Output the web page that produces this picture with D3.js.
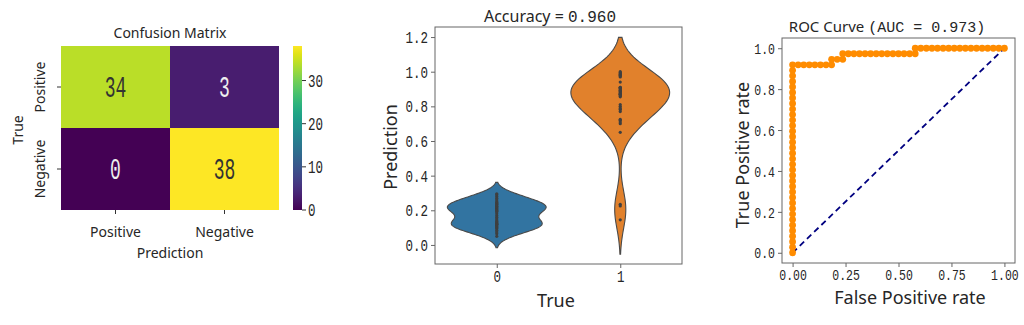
<!DOCTYPE html>
<html><head><meta charset="utf-8">
<script src="https://cdn.jsdelivr.net/npm/d3@7"></script>
<style>
body{margin:0;background:#fff;}
svg{display:block;}
</style></head><body>
<svg id="c" width="1024" height="325"></svg>
<script>
// ---------------- data ----------------
const cmRows = ["Positive", "Negative"];       // True
const cmCols = ["Positive", "Negative"];       // Prediction
const cmValues = [[34, 3], [0, 38]];
const cbTicks = [0, 10, 20, 30];
const cbMax = 38;

const violinClasses = [0, 1];
const predClass0 = [0.05, 0.065, 0.075, 0.085, 0.095, 0.10, 0.105, 0.11, 0.115, 0.12, 0.12, 0.125, 0.13, 0.135,
  0.14, 0.15, 0.16, 0.17, 0.18, 0.19, 0.195, 0.20, 0.205, 0.21, 0.215, 0.22, 0.22, 0.225, 0.23, 0.235,
  0.24, 0.245, 0.25, 0.26, 0.27, 0.28, 0.29, 0.295];
const predClass1 = [0.145, 0.225, 0.235,
  0.65, 0.70, 0.71, 0.72, 0.725, 0.77, 0.78, 0.785, 0.79, 0.80, 0.81,
  0.855, 0.86, 0.865, 0.87, 0.87, 0.875, 0.88, 0.885, 0.89, 0.89, 0.895, 0.90, 0.905, 0.91, 0.91,
  0.94, 0.97, 0.975, 0.98, 0.985, 0.99, 0.995, 1.00];
const violinYTicks = [0.0, 0.2, 0.4, 0.6, 0.8, 1.0, 1.2];
const accuracyText = "0.960";

const rocNeg = 38, rocPos = 37;
const rocFpCounts = [0,0,0,0,0,0,0,0,0,0,0,0,0,0,0,0,0,0,0,0,0,0,0,0,0,0,0,0,0,0,0,0,0,0,0,
  1,2,3,4,5,6,7, 7, 8,9, 9, 10,11,12,13,14,15,16,17,18,19,20,21,22, 22,
  23,24,25,26,27,28,29,30,31,32,33,34,35,36,37,38];
const rocTpCounts = [0,1,2,3,4,5,6,7,8,9,10,11,12,13,14,15,16,17,18,19,20,21,22,23,24,25,26,27,28,29,30,31,32,33,34,
  34,34,34,34,34,34,34, 35, 35,35, 36, 36,36,36,36,36,36,36,36,36,36,36,36,36, 37,
  37,37,37,37,37,37,37,37,37,37,37,37,37,37,37,37];
const aucText = "0.973";
const rocTicksX = [0, 0.25, 0.5, 0.75, 1.0];
const rocTicksY = [0, 0.2, 0.4, 0.6, 0.8, 1.0];

// ---------------- drawing ----------------
const svg = d3.select("#c");
const SANS = "'Noto Sans', 'Open Sans', sans-serif";
const MONO = "'Liberation Mono', 'DejaVu Sans Mono', monospace";
const TXT = "#262626";
const SPINE = "#666";

// tall, narrow tick labels (monospace stretched vertically)
function styleLeft(a, fs) {
  a.select(".domain").remove();
  a.selectAll("line").attr("stroke", SPINE);
  a.selectAll("text").attr("x", null).attr("y", null).attr("dy", null)
    .attr("transform", `translate(-7,${fs * 0.45}) scale(1,1.35)`)
    .attr("font-family", MONO).attr("font-size", fs).attr("fill", TXT);
}
function styleBottom(a, fs, base) {
  a.select(".domain").remove();
  a.selectAll("line").attr("stroke", SPINE);
  a.selectAll("text").attr("x", null).attr("y", null).attr("dy", null)
    .attr("transform", `translate(0,${base}) scale(1,1.35)`)
    .attr("font-family", MONO).attr("font-size", fs).attr("fill", TXT);
}

// ===== Panel 1: confusion matrix heatmap =====
const hx = d3.scaleBand().domain(cmCols).range([61, 279]);
const hy = d3.scaleBand().domain(cmRows).range([46, 210]);
const hc = d3.scaleSequential(d3.interpolateViridis).domain([0, cbMax]);
const cells = [];
cmRows.forEach((r, i) => cmCols.forEach((c, j) => cells.push({r, c, v: cmValues[i][j]})));
const hm = svg.append("g");
hm.selectAll("rect").data(cells).join("rect")
  .attr("x", d => hx(d.c)).attr("y", d => hy(d.r))
  .attr("width", hx.bandwidth()).attr("height", hy.bandwidth())
  .attr("fill", d => hc(d.v));
hm.selectAll("text.val").data(cells).join("text").attr("class", "val")
  .attr("transform", d => `translate(${hx(d.c) + hx.bandwidth() / 2},${hy(d.r) + hy.bandwidth() / 2 + 9.5}) scale(1,1.6)`)
  .attr("text-anchor", "middle").attr("font-family", MONO).attr("font-size", 18)
  .attr("fill", d => d.v > 19 ? "#333" : "#eee").text(d => d.v);
hm.selectAll("line.yt").data(cmRows).join("line").attr("class", "yt")
  .attr("x1", 57).attr("x2", 61).attr("y1", d => hy(d) + hy.bandwidth() / 2).attr("y2", d => hy(d) + hy.bandwidth() / 2)
  .attr("stroke", "#333").attr("stroke-width", 1);
hm.selectAll("text.yl").data(cmRows).join("text").attr("class", "yl")
  .attr("transform", d => `translate(45,${hy(d) + hy.bandwidth() / 2}) rotate(-90)`)
  .attr("text-anchor", "middle").attr("font-family", SANS).attr("font-size", 14).attr("fill", TXT).text(d => d);
hm.selectAll("line.xt").data(cmCols).join("line").attr("class", "xt")
  .attr("y1", 210).attr("y2", 214).attr("x1", d => hx(d) + hx.bandwidth() / 2).attr("x2", d => hx(d) + hx.bandwidth() / 2)
  .attr("stroke", "#333").attr("stroke-width", 1);
hm.selectAll("text.xl").data(cmCols).join("text").attr("class", "xl")
  .attr("x", d => hx(d) + hx.bandwidth() / 2).attr("y", 237)
  .attr("text-anchor", "middle").attr("font-family", SANS).attr("font-size", 14).attr("fill", TXT).text(d => d);
hm.append("text").attr("x", 170).attr("y", 258).attr("text-anchor", "middle")
  .attr("font-family", SANS).attr("font-size", 14).attr("fill", TXT).text("Prediction");
hm.append("text").attr("transform", "translate(23,130) rotate(-90)").attr("text-anchor", "middle")
  .attr("font-family", SANS).attr("font-size", 14).attr("fill", TXT).text("True");
hm.append("text").attr("x", 170).attr("y", 38).attr("text-anchor", "middle")
  .attr("font-family", SANS).attr("font-size", 14).attr("fill", TXT).text("Confusion Matrix");
// colorbar
const cby = d3.scaleLinear().domain([0, cbMax]).range([210, 46]);
const defs = svg.append("defs");
const grad = defs.append("linearGradient").attr("id", "vir").attr("x1", 0).attr("y1", 1).attr("x2", 0).attr("y2", 0);
d3.range(0, 1.0001, 0.05).forEach(t => grad.append("stop").attr("offset", t).attr("stop-color", d3.interpolateViridis(t)));
svg.append("rect").attr("x", 293).attr("y", 46).attr("width", 9).attr("height", 164).attr("fill", "url(#vir)");
const cbg = svg.append("g");
cbg.selectAll("line").data(cbTicks).join("line")
  .attr("x1", 302).attr("x2", 306).attr("y1", d => cby(d)).attr("y2", d => cby(d)).attr("stroke", "#333");
cbg.selectAll("text").data(cbTicks).join("text")
  .attr("transform", d => `translate(308,${cby(d) + 6}) scale(1,1.45)`)
  .attr("font-family", MONO).attr("font-size", 12.5).attr("fill", TXT).text(d => d);

// ===== Panel 2: violin plot =====
const vx = d3.scaleLinear().domain([-0.5, 1.5]).range([435, 682]);
const vy = d3.scaleLinear().domain([-0.11, 1.258]).range([264, 27]);
const vcolors = ["#3274a1", "#e1812c"];
function kde(data) {
  const n = data.length, sd = d3.deviation(data);
  const bw = sd * Math.pow(n, -0.2);
  const lo = d3.min(data) - 2 * bw, hi = d3.max(data) + 2 * bw;
  const pts = [];
  for (let k = 0; k < 100; k++) {
    const y = lo + (hi - lo) * k / 99;
    let s = 0;
    for (const v of data) { const z = (y - v) / bw; s += Math.exp(-0.5 * z * z); }
    pts.push({y, d: s / (n * bw * Math.sqrt(2 * Math.PI))});
  }
  return pts;
}
const vg = svg.append("g");
violinClasses.forEach((c, i) => {
  const vals = i === 0 ? predClass0 : predClass1;
  const dens = kde(vals);
  const maxD = d3.max(dens, p => p.d);   // each violin scaled to the same width
  const area = d3.area().y(p => vy(p.y))
    .x0(p => vx(c - p.d / maxD * 0.4)).x1(p => vx(c + p.d / maxD * 0.4));
  vg.append("path").attr("d", area(dens)).attr("fill", vcolors[i])
    .attr("stroke", "#4a4a4a").attr("stroke-width", 1.1);
  vg.selectAll(null).data(vals).join("circle").attr("cx", vx(c)).attr("cy", d => vy(d))
    .attr("r", 1.6).attr("fill", "#3f3f3f");
});
svg.append("rect").attr("x", 435).attr("y", 27).attr("width", 247).attr("height", 237)
  .attr("fill", "none").attr("stroke", SPINE).attr("stroke-width", 1);
const vya = svg.append("g").attr("transform", "translate(435,0)")
  .call(d3.axisLeft(vy).tickValues(violinYTicks).tickFormat(d3.format(".1f")).tickSize(4));
styleLeft(vya, 12.5);
const vxa = svg.append("g").attr("transform", "translate(0,264)")
  .call(d3.axisBottom(vx).tickValues(violinClasses).tickFormat(d3.format("d")).tickSize(4));
styleBottom(vxa, 12.5, 18);
svg.append("text").attr("transform", "translate(397,147) rotate(-90)").attr("text-anchor", "middle")
  .attr("font-family", SANS).attr("font-size", 18).attr("fill", TXT).text("Prediction");
svg.append("text").attr("x", 556).attr("y", 307).attr("text-anchor", "middle")
  .attr("font-family", SANS).attr("font-size", 18).attr("fill", TXT).text("True");
const vt = svg.append("text").attr("x", 550).attr("y", 22).attr("text-anchor", "middle")
  .attr("fill", TXT);
vt.append("tspan").attr("font-family", SANS).attr("font-size", 16).text("Accuracy = ");
vt.append("tspan").attr("font-family", MONO).attr("font-size", 16).text(accuracyText);

// ===== Panel 3: ROC curve =====
const rx = d3.scaleLinear().domain([-0.05, 1.05]).range([782, 1015]);
const ry = d3.scaleLinear().domain([-0.05, 1.05]).range([263, 38]);
const roc = rocFpCounts.map((f, i) => ({x: f / rocNeg, y: rocTpCounts[i] / rocPos}));
const rg = svg.append("g");
rg.append("line").attr("x1", rx(0)).attr("y1", ry(0)).attr("x2", rx(1)).attr("y2", ry(1))
  .attr("stroke", "navy").attr("stroke-width", 1.8).attr("stroke-dasharray", "6,4");
rg.append("path").datum(roc).attr("d", d3.line().x(d => rx(d.x)).y(d => ry(d.y)))
  .attr("fill", "none").attr("stroke", "darkorange").attr("stroke-width", 2);
rg.selectAll("circle").data(roc).join("circle").attr("cx", d => rx(d.x)).attr("cy", d => ry(d.y))
  .attr("r", 3.4).attr("fill", "darkorange");
svg.append("rect").attr("x", 782).attr("y", 38).attr("width", 233).attr("height", 225)
  .attr("fill", "none").attr("stroke", SPINE).attr("stroke-width", 1);
const rya = svg.append("g").attr("transform", "translate(782,0)")
  .call(d3.axisLeft(ry).tickValues(rocTicksY).tickFormat(d3.format(".1f")).tickSize(4));
styleLeft(rya, 11.5);
const rxa = svg.append("g").attr("transform", "translate(0,263)")
  .call(d3.axisBottom(rx).tickValues(rocTicksX).tickFormat(d3.format(".2f")).tickSize(4));
styleBottom(rxa, 11.5, 16.5);
svg.append("text").attr("transform", "translate(749,155) rotate(-90)").attr("text-anchor", "middle")
  .attr("font-family", SANS).attr("font-size", 18).attr("fill", TXT).text("True Positive rate");
svg.append("text").attr("x", 910).attr("y", 304).attr("text-anchor", "middle")
  .attr("font-family", SANS).attr("font-size", 18).attr("fill", TXT).text("False Positive rate");
const rt = svg.append("text").attr("x", 887).attr("y", 32).attr("text-anchor", "middle")
  .attr("font-size", 15).attr("fill", TXT);
rt.append("tspan").attr("font-family", SANS).text("ROC Curve ");
rt.append("tspan").attr("font-family", MONO).text("(AUC = " + aucText + ")");
</script>
</body></html>
